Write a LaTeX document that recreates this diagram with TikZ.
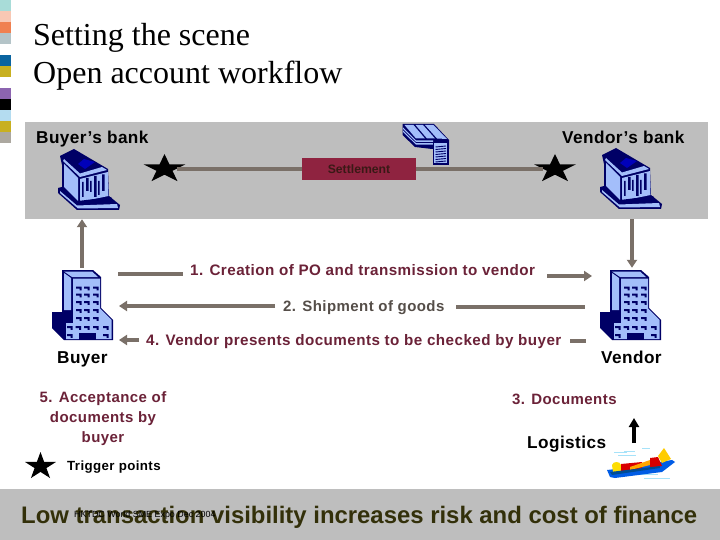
\documentclass[tikz,border=0pt]{standalone}
\usepackage{fontspec}
\setmainfont{Liberation Sans}
\newfontfamily\titlefont{Liberation Serif}
\newfontfamily\spcA[LetterSpace=3]{Liberation Sans}
\newfontfamily\spcB[LetterSpace=2.5]{Liberation Sans}
\usetikzlibrary{shapes.geometric,arrows.meta}
\definecolor{navy}{HTML}{000066}
\definecolor{lightb}{HTML}{A3BEFA}
\definecolor{band}{HTML}{BEBEBE}
\definecolor{wine}{HTML}{8F2340}
\definecolor{winetxt}{HTML}{6B2238}
\definecolor{flowc}{HTML}{7A7068}
\definecolor{oliv}{HTML}{33300A}
\tikzset{
  lab/.style={inner sep=0pt,anchor=base,font=\fontsize{15}{17}\spcA\bfseries,text=winetxt},
  hdr/.style={inner sep=0pt,anchor=base,font=\fontsize{17.2}{20}\spcB\bfseries,text=black},
  flow/.style={draw=flowc,line width=3.2pt},
  flowa/.style={flow,-{Triangle[length=8pt,width=10pt]}},
  starmark/.style={star,star points=5,star point ratio=2.618,fill=black,inner sep=0pt,transform shape},
  box/.style={inner sep=0pt,minimum width=60pt,minimum height=70pt},
  bank/.pic={
    \fill[navy] (8,11)--(22,4)--(56,24)--(57,51)--(68,60)--(67,65)--(25,65)--(6,48)--(6,43)--(10,42)--(10,20)--cycle;
    \fill[blue!55!navy] (32,14)--(43,17)--(33,24)--(26,19)--cycle;
    \fill[lightb] (11,16)--(28,32)--(55,25)--(50,22)--(28,28.5)--(12,14)--cycle;
    \fill[lightb] (12,19)--(26,33)--(26,56)--(12,42)--cycle;
    \fill[lightb] (28,34)--(56,27)--(56.5,51)--(28,57)--cycle;
    \fill[lightb] (8,46)--(25,60.5)--(65,59)--(66,63)--(26,63.5)--(8,48)--cycle;
    \fill[navy] (34,33) rectangle (36.5,46) (42,31) rectangle (44.5,52) (50,29.5) rectangle (52.5,46);
    \fill[navy] (30,37) rectangle (31.5,52) (38,36) rectangle (39.5,47) (46,36) rectangle (47.5,50);
    \fill[navy] (26,56)--(59,52)--(60,54)--(27,58.5)--cycle;
  },
  tower/.pic={
    \fill[navy] (16,5)--(47,5)--(55,12)--(55,43)--(67,55)--(67,75)--(18,75)--(6,63)--(6,47)--(16,47)--cycle;
    \fill[lightb] (18,6.5)--(46,6.5)--(52,12)--(26,12)--cycle;
    \fill[lightb] (18,8)--(25,13)--(25,45)--(18,45)--cycle;
    \fill[lightb] (27,13.5)--(54,13.5)--(54,43.5)--(65.5,55)--(65.5,74)--(50,74)--(50,68)--(33,68)--(33,74)--(20,74)--(20,58)--(27,58)--cycle;
    \foreach \y in {21.5,28.5,36,44,52}{
      \foreach \x in {30,38,47}{\fill[navy] (\x,\y) rectangle +(5.5,2) (\x+3.5,\y) rectangle +(2,3.8);}}
    \foreach \x in {21,29.5,38,47,57}{\fill[navy] (\x,61) rectangle +(5.5,2) (\x+3.5,61) rectangle +(2,3.8);}
    \foreach \x in {21,57}{\fill[navy] (\x,69) rectangle +(5.5,2) (\x+3.5,69) rectangle +(2,3.8);}
    \fill[navy] (33,68) rectangle (50,75);
  },
}
\begin{document}
\begin{tikzpicture}[x=1pt,y=-1pt]
\useasboundingbox (0,0) rectangle (720,540);
\fill[white] (0,0) rectangle (720,540);
\foreach \c/\a in {A8DCD8/0,F8C8B4/11,F08050/22,B4C4C8/33,0A64A0/55,C8B020/66,8C64B0/88,000000/99,B4DCF0/110,C8B020/121,ACA8A0/132}{
  \definecolor{tmpc}{HTML}{\c}
  \fill[tmpc] (0,\a) rectangle (11,\a+11);
}
\node[inner sep=0pt,anchor=base west,font=\fontsize{32}{36}\selectfont\titlefont] (t1) at (33,46) {Setting the scene};
\node[inner sep=0pt,anchor=base west,font=\fontsize{32}{36}\selectfont\titlefont] (t2) at (33,84) {Open account workflow};
\fill[band] (25,122) rectangle (708,219);
\fill[band] (0,489) rectangle (720,540);
\node[hdr,anchor=base west] (bb) at (36,144) {Buyer’s bank};
\node[hdr,anchor=base west] (vb) at (562,144) {Vendor’s bank};
\node[fill=wine,inner sep=0pt,minimum width=114pt,minimum height=22pt,font=\fontsize{12.2}{13}\selectfont\bfseries,text=oliv!50!wine!60!black] (settle) at (359,169) {Settlement};
\node[starmark,minimum size=30pt,xscale=1.47] (s1) at (164.5,169) {};
\node[starmark,minimum size=30pt,xscale=1.47] (s2) at (555,169) {};
\draw[flow] (s1) -- (settle);
\draw[flow] (settle) -- (s2);
\node[box] (buyerbank) at (82,184) {};
\node[box] (vendorbank) at (632,184) {};
\node[box,minimum height=76pt] (buyer) at (82,306) {};
\node[box,minimum height=76pt] (vendor) at (632,306) {};
\pic at (52,145) {bank};
\pic at (594,144) {bank};
\pic at (46,265) {tower};
\pic at (594,265) {tower};
\draw[flowa] (buyer.north) -- (buyerbank.south);
\draw[flowa] (vendorbank.south) -- (vendor.north);
\begin{scope}[shift={(398,120)}]
  \fill[navy] (4.5,4)--(36,4)--(51,20)--(51,29)--(34,29)--(17,27)--(4.5,15)--cycle;
  \fill[lightb] (6.5,5)--(15.5,5)--(27,18.5)--(18,18.5)--cycle (17.5,5)--(25,5)--(37,18.5)--(29,18.5)--cycle (27,5)--(35.5,5)--(49,19)--(39,18.5)--cycle;
  \fill[lightb] (5,7.5)--(18,20.5)--(35,20.5)--(35,22)--(18,22)--(5,9)--cycle (5,10.5)--(18,23.2)--(35,23.2)--(35,24.6)--(18,24.6)--(5,12)--cycle;
  \fill[navy] (34.5,22) rectangle (50.5,45);
  \fill[lightb] (36,23.5) rectangle (49,43.5);
  \foreach \y in {27,29.5,32,34.5,37,39.5,42}{\draw[navy,line width=.9pt] (37.5,\y) -- (48,\y-1);}
\end{scope}
\node[lab,font=\fontsize{15.2}{17}\spcA\bfseries,anchor=base west] (l1) at (190,275) {1. Creation of PO and transmission to vendor};
\node[lab,anchor=base west,text=flowc!70!black] (l2) at (283,311) {2. Shipment of goods};
\node[lab,font=\fontsize{15.2}{17}\spcA\bfseries,anchor=base west] (l4) at (146,345) {4. Vendor presents documents to be checked by buyer};
\coordinate (c1a) at (118,274); \coordinate (c1b) at (183,274);
\coordinate (c1c) at (547,276); \coordinate (c1d) at (592,276);
\coordinate (c2a) at (275,306); \coordinate (c2b) at (119,306);
\coordinate (c2c) at (456,307); \coordinate (c2d) at (585,307);
\coordinate (c4a) at (139,340); \coordinate (c4b) at (119,340);
\coordinate (c4c) at (570,341); \coordinate (c4d) at (586,341);
\draw[flow] (c1a) -- (c1b);
\draw[flowa] (c1c) -- (c1d);
\draw[flowa] (c2a) -- (c2b);
\draw[flow] (c2c) -- (c2d);
\draw[flowa] (c4a) -- (c4b);
\draw[flow] (c4c) -- (c4d);
\node[hdr,anchor=base west] (buyername) at (57,363) {Buyer};
\node[hdr,anchor=base west] (vendorname) at (601,363) {Vendor};
\node[lab,align=center,font=\fontsize{15}{20}\spcA\bfseries,anchor=north] (l5) at (103,391) {5. Acceptance of\\documents by\\buyer};
\node[lab,anchor=base west] (l3) at (512,404.5) {3. Documents};
\node[hdr,anchor=base west] (logi) at (527,448.5) {Logistics};
\coordinate (la) at (634,443); \coordinate (lb) at (634,418);
\draw[black,line width=3.2pt,-{Triangle[length=9pt,width=10pt]}] (la) -- (lb);
\begin{scope}[shift={(600,445)}]
  \foreach \a/\b/\c in {14/27/7,24/35/6,42/50/3,18/36/10,40/58/29,44/70/33}{\draw[cyan!35,line width=.8pt] (\a,\c) -- (\b,\c);}
  \fill[blue!60!cyan!90!black] (7,25)--(16,24)--(72,15)--(75,17)--(62,27)--(15,33)--(10,32)--cycle;
  \fill[yellow!80!orange] (12,20) .. controls (13,16) and (20,16) .. (21,20) -- (21,27) -- (13,27) -- cycle;
  \fill[red!85!black] (21,19)--(42,17)--(42,23)--(21,27)--cycle;
  \fill[orange!70!yellow] (30,22)--(50,15)--(50,20)--(30,25)--cycle;
  \fill[red!85!black] (50,13)--(58,12)--(62,21)--(50,23)--cycle;
  \fill[orange!40!yellow] (58,11)--(64,3)--(71,14)--(62,18)--cycle;
  \fill[navy!70!cyan] (10,27)--(60,21)--(60,23)--(12,30)--cycle;
\end{scope}
\node[starmark,minimum size=28.8pt,xscale=1.13] (leg) at (40.5,466.4) {};
\node[inner sep=0pt,anchor=base west,font=\fontsize{13.3}{15}\spcA\bfseries] (legt) at (67,470.5) {Trigger points};
\node[inner sep=0pt,anchor=base west,font=\fontsize{23.9}{26}\selectfont\bfseries,text=oliv] (low) at (21,523) {Low transaction visibility increases risk and cost of finance};
\node[inner sep=0pt,anchor=base west,font=\fontsize{8.9}{10}\selectfont,text=black] (foot) at (74,517) {HKTDC World SME Expo Dec 2004};
\end{tikzpicture}
\end{document}
